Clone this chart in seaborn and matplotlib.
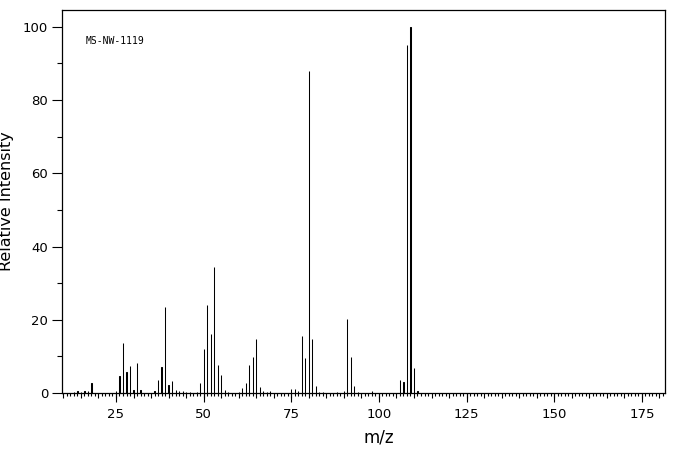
import numpy as np
import pandas as pd
import matplotlib
matplotlib.use("Agg")
import matplotlib.pyplot as plt
import seaborn as sns
from matplotlib.ticker import MultipleLocator

# picos do espectro (m/z, intensidade relativa %)
mz = [13, 14, 15, 16, 17, 18,
      25, 26, 27, 28, 29, 30, 31, 32,
      36, 37, 38, 39, 40, 41, 42, 43, 44, 45, 46, 48, 49,
      50, 51, 52, 53, 54, 55, 56, 57,
      60, 61, 62, 63, 64, 65, 66, 67, 68, 69,
      75, 76, 77, 78, 79, 80, 81, 82, 83, 84, 88,
      90, 91, 92, 93, 94, 98,
      106, 107, 108, 109, 110, 111]
intensidade = [0.3, 0.6, 0.4, 0.5, 0.6, 2.7,
               0.5, 4.6, 13.7, 5.6, 7.3, 0.7, 8.2, 0.7,
               0.5, 3.5, 7.0, 23.5, 2.1, 3.4, 0.8, 0.5, 0.6, 0.4, 0.4, 0.4, 2.6,
               12.1, 24.1, 16.2, 34.5, 7.7, 5.0, 0.8, 0.4,
               0.4, 1.5, 2.8, 7.7, 9.9, 14.8, 1.7, 0.5, 0.4, 0.5,
               1.0, 1.0, 0.5, 15.5, 9.5, 88.0, 14.7, 1.8, 0.3, 0.3, 0.3,
               0.5, 20.1, 9.7, 1.8, 0.3, 0.5,
               3.5, 2.9, 95.0, 100.0, 6.7, 0.5]

x_ticks = [25, 50, 75, 100, 125, 150, 175]
y_ticks = [0, 20, 40, 60, 80, 100]

df = pd.DataFrame({"mz": mz, "intensidade": intensidade})

sns.set_style("ticks", {"axes.edgecolor": "black", "xtick.color": "black",
                        "ytick.color": "black", "text.color": "black",
                        "axes.labelcolor": "black"})
plt.rcParams['font.family'] = ['DejaVu Sans']

fig = plt.figure(figsize=(6.76, 4.55), dpi=100)
ax = fig.add_axes([62 / 676, 1 - 393 / 455, 603 / 676, 383 / 455])

# barras finas: largura quase zero, a borda de 1px faz a linha
sns.barplot(data=df, x="mz", y="intensidade", native_scale=True, width=0.05,
            color="black", edgecolor="black", linewidth=0.75, errorbar=None, ax=ax)

ax.set_xlim(9.6, 181.6)
ax.set_ylim(0, 104.6)

for s in ax.spines.values():
    s.set_linewidth(0.9)
    s.set_color("black")

# eixo x: ticks de 1 e 5 sem rotulo, ticks longos de 25 com rotulo
ax.xaxis.set_major_locator(MultipleLocator(5))
ax.xaxis.set_minor_locator(MultipleLocator(1))
ax.tick_params(axis="x", which="major", length=3.8, width=0.8, labelbottom=False)
ax.tick_params(axis="x", which="minor", length=2.0, width=0.8)
sec = ax.secondary_xaxis("bottom")
sec.set_xticks(x_ticks)
sec.tick_params(length=6.8, width=0.8, pad=4, labelsize=9.5, colors="black")
sec.spines["bottom"].set_visible(False)
ax.set_xlabel("")
fig.text((62 + 603 * (100 - 9.6) / 172) / 676, 1 - 438 / 455, "m/z",
         fontsize=12, ha="center", va="center")

# eixo y
ax.set_yticks(y_ticks)
ax.yaxis.set_minor_locator(MultipleLocator(10))
ax.tick_params(axis="y", which="major", length=7, width=0.8, pad=3, labelsize=9.5)
ax.tick_params(axis="y", which="minor", length=3.6, width=0.8)
ax.set_ylabel("Relative Intensity", fontsize=11.5)
ax.yaxis.set_label_coords(-0.079, 0.5)

ax.text(0.04, 0.92, "MS-NW-1119", transform=ax.transAxes, fontsize=7,
        family="DejaVu Sans Mono", va="center", ha="left")

fig.savefig("out.png", dpi=100)
